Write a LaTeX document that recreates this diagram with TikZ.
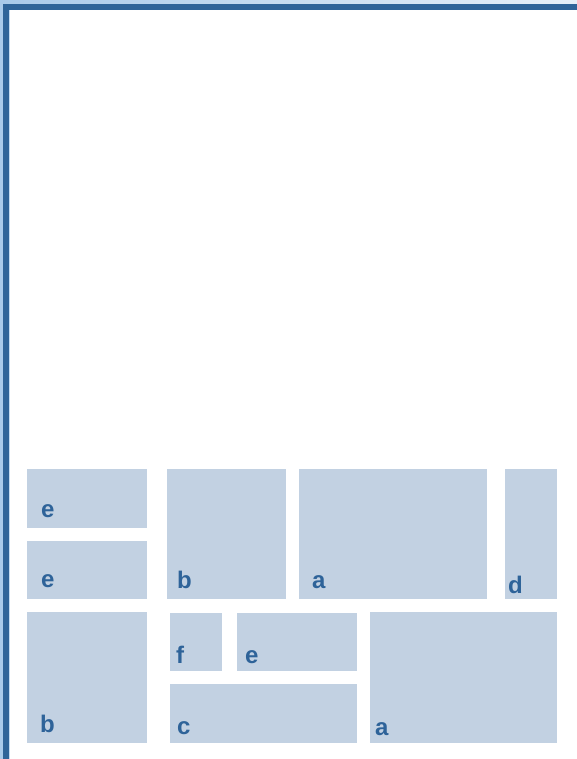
\documentclass[tikz,border=0pt]{standalone}
\usepackage{fontspec}
\setmainfont{Liberation Sans}
\usetikzlibrary{fit}
\definecolor{framedark}{HTML}{2F6499}
\definecolor{framelight}{HTML}{A9CAEA}
\definecolor{framepale}{HTML}{E6EFF8}
\definecolor{panelfill}{HTML}{C2D1E2}
\definecolor{lettercol}{HTML}{2E6399}

\begin{document}
\begin{tikzpicture}[
    x=1pt, y=-1pt,
    panel/.style={fill=panelfill, draw=none, inner sep=0pt},
    letter/.style={anchor=base west, inner sep=0pt, text=lettercol, font=\fontsize{24}{28}\selectfont\bfseries}
]
\useasboundingbox (0,0) rectangle (577,759);

% page frame
\shade[left color=framelight, right color=framepale] (0,0) rectangle (577,4);
\fill[framelight] (0,0) rectangle (3,759);
\fill[framedark] (3,4) rectangle (577,10);
\fill[framedark] (3,4) rectangle (9,759);
\fill[framelight!70] (9,10) rectangle (10,759);

% panels, upper row
\node[panel, fit={(27,469) (147,528)}] (e1) {};
\node[panel, fit={(27,541) (147,599)}] (e2) {};
\node[panel, fit={(167,469) (286,599)}] (b1) {};
\node[panel, fit={(299,469) (487,599)}] (a1) {};
\node[panel, fit={(505,469) (557,599)}] (d1) {};

% panels, lower row
\node[panel, fit={(27,612) (147,743)}] (b2) {};
\node[panel, fit={(170,613) (222,671)}] (f1) {};
\node[panel, fit={(237,613) (357,671)}] (e3) {};
\node[panel, fit={(170,684) (357,743)}] (c1) {};
\node[panel, fit={(370,612) (557,743)}] (a2) {};

% letters
\foreach \nm/\x/\y/\txt in {le1/41/517/e, le2/41/587/e, lb1/177/588/b, la1/312/588/a, ld1/508/593/d,
                           lb2/40/732/b, lf1/176/663/f, le3/245/663/e, lc1/177/734/c, la2/375/735/a} {
    \node[letter] (\nm) at (\x,\y) {\txt};
}

\end{tikzpicture}
\end{document}
